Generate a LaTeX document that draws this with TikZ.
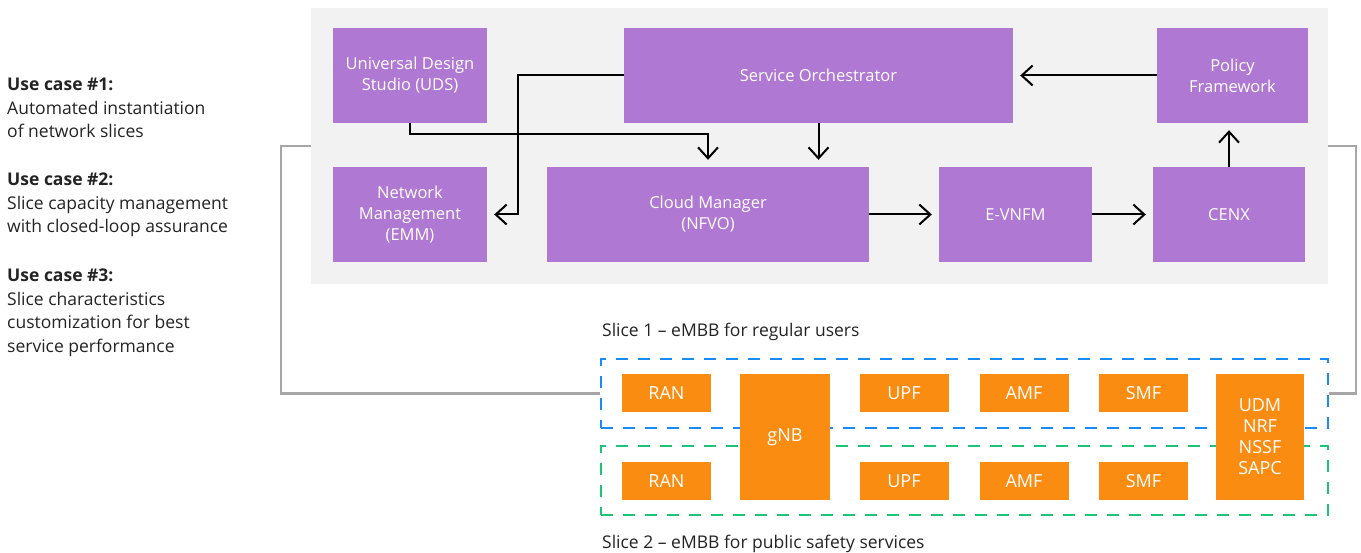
\documentclass[tikz,border=0pt]{standalone}
\usepackage{fontspec}
\setmainfont{Open Sans}
\usetikzlibrary{arrows.meta}
\definecolor{purplebox}{RGB}{175,120,210}
\definecolor{orangebox}{RGB}{251,140,18}
\definecolor{panelgrey}{RGB}{242,242,242}
\definecolor{wiregrey}{RGB}{166,166,166}
\definecolor{slicea}{RGB}{24,138,250}
\definecolor{sliceb}{RGB}{28,196,120}
\definecolor{textgrey}{RGB}{35,35,35}
\begin{document}
\begin{tikzpicture}[x=1pt,y=-1pt,
    every node/.style={font=\fontsize{16.5}{21}\selectfont},
    mgmt/.style={fill=purplebox,text=white,align=center,inner sep=0pt,minimum height=95pt},
    nf/.style={fill=orangebox,text=white,align=center,inner sep=0pt,minimum width=89pt,minimum height=38pt,font=\fontsize{18}{21}\selectfont},
    slice/.style={draw,line width=2.5pt,dash pattern=on 12pt off 10pt,inner sep=0pt,minimum width=727pt,minimum height=69pt},
    flow/.style={line width=2pt,-{Straight Barb[length=11pt,width=20pt]},shorten >=7pt},
    wire/.style={line width=2.5pt,draw=wiregrey},
    usecase/.style={anchor=north west,align=left,inner sep=0pt,text=textgrey,font=\fontsize{17.5}{23.5}\selectfont},
    label/.style={anchor=west,inner sep=0pt,text=textgrey,font=\fontsize{17.5}{20}\selectfont}]
  \useasboundingbox (0,0) rectangle (1361,553);
  \node[fill=panelgrey,inner sep=0pt,minimum width=1017pt,minimum height=276pt] (panel) at (819.5,146) {};
  \node[usecase] (uc1) at (7,78) {\textbf{Use case \#1:}\\Automated instantiation\\of network slices};
  \node[usecase] (uc2) at (7,173) {\textbf{Use case \#2:}\\Slice capacity management\\with closed-loop assurance};
  \node[usecase] (uc3) at (7,269) {\textbf{Use case \#3:}\\Slice characteristics\\customization for best\\service performance};
  \node[slice,draw=slicea] (s1) at (964.5,393.5) {};
  \node[slice,draw=sliceb] (s2) at (964.5,480.5) {};
  \node[label] (s1label) at (602,332) {Slice 1 – eMBB for regular users};
  \node[label] (s2label) at (602,544) {Slice 2 – eMBB for public safety services};
  \draw[wire] (panel.west) -- ++(-30,0) |- (s1.west);
  \draw[wire] (panel.east) -- ++(28,0) |- (s1.east);
  \node[mgmt,minimum width=154pt] (uds) at (410,75.5) {Universal Design\\Studio (UDS)};
  \node[mgmt,minimum width=389pt] (so) at (818.5,75.5) {Service Orchestrator};
  \node[mgmt,minimum width=151pt] (pf) at (1232.5,75.5) {Policy\\Framework};
  \node[mgmt,minimum width=154pt] (nm) at (410,214.5) {Network\\Management\\(EMM)};
  \node[mgmt,minimum width=322pt] (cm) at (708,214.5) {Cloud Manager\\(NFVO)};
  \node[mgmt,minimum width=153pt] (ev) at (1015.5,214.5) {E-VNFM};
  \node[mgmt,minimum width=152pt] (cenx) at (1229,214.5) {CENX};
  \node[nf] (ran1) at (666.5,393) {RAN};
  \node[nf] (ran2) at (666.5,481) {RAN};
  \node[nf,minimum width=90pt,minimum height=126pt] (gnb) at (785,437) {gNB};
  \node[nf] (upf1) at (904,393) {UPF};
  \node[nf] (upf2) at (904,481) {UPF};
  \node[nf] (amf1) at (1024,393) {AMF};
  \node[nf] (amf2) at (1024,481) {AMF};
  \node[nf] (smf1) at (1143.5,393) {SMF};
  \node[nf] (smf2) at (1143.5,481) {SMF};
  \node[nf,minimum width=88pt,minimum height=126pt] (udm) at (1260,437) {UDM\\NRF\\NSSF\\SAPC};
  \coordinate (turn) at (518,214.5);
  \begin{scope}[flow]
    \draw (uds.south) -- ++(0,11) -| (cm.north);
    \draw (so.south) -- (so.south |- cm.north);
    \draw (so.west) -| (turn) -- (nm.east);
    \draw (pf.west) -- (so.east);
    \draw (cm.east) -- (ev.west);
    \draw (ev.east) -- (cenx.west);
    \draw (cenx.north) -- (cenx.north |- pf.south);
  \end{scope}
\end{tikzpicture}
\end{document}
